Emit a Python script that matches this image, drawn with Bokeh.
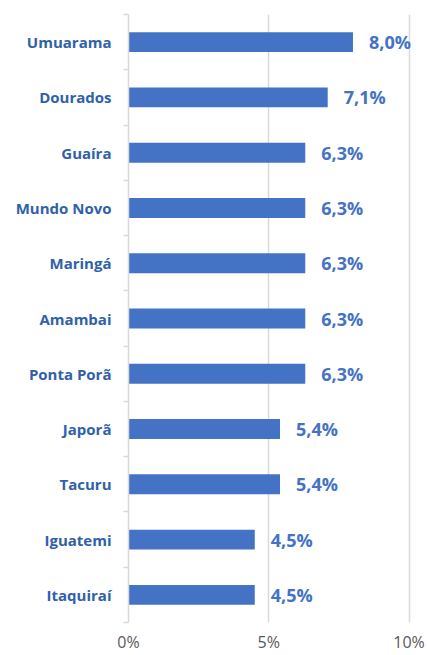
from bokeh.plotting import figure
from bokeh.models import Range1d, FixedTicker, ColumnDataSource
from bokeh.core.properties import value
from bokeh.embed import file_html
from bokeh.resources import INLINE

cities = ["Umuarama", "Dourados", "Guaíra", "Mundo Novo", "Maringá", "Amambai",
          "Ponta Porã", "Japorã", "Tacuru", "Iguatemi", "Itaquiraí"]
shares = [8.0, 7.1, 6.3, 6.3, 6.3, 6.3, 6.3, 5.4, 5.4, 4.5, 4.5]
x_ticks = [0, 5, 10]
x_tick_labels = ["0%", "5%", "10%"]

n = len(cities)
pos = [n - 0.5 - i for i in range(n)]  # category slots, top to bottom
labels = [f"{v:.1f}%".replace(".", ",") for v in shares]
src = ColumnDataSource(dict(pos=pos, city=cities, share=shares, label=labels))

FONT = "Open Sans"
BAR = "#4472C4"
CAT = "#2F61AA"
GRID = "#D9D9D9"

p = figure(width=427, height=655,
           y_range=Range1d(0, n),
           x_range=Range1d(0, 10.3),
           output_backend="svg", toolbar_location=None,
           min_border_left=128, min_border_right=10,
           min_border_top=14, min_border_bottom=30)

p.hbar(y="pos", left=0, right="share", height=0.36, source=src,
       fill_color=BAR, line_color=None)
p.text(x="share", y="pos", text="label", source=src, x_offset=16,
       text_baseline="middle", text_align="left",
       text_font=value(FONT), text_font_style="bold",
       text_font_size="18px", text_color=BAR)

# x axis
p.xaxis.ticker = FixedTicker(ticks=x_ticks)
p.xaxis.major_label_overrides = dict(zip(x_ticks, x_tick_labels))
p.xaxis.axis_line_color = None
p.xaxis.major_tick_line_color = None
p.xaxis.minor_tick_line_color = None
p.xaxis.major_tick_out = 0
p.xaxis.major_label_standoff = 8
p.xaxis.major_label_text_font = FONT
p.xaxis.major_label_text_font_size = "16px"
p.xaxis.major_label_text_color = "#595959"

p.xgrid.ticker = FixedTicker(ticks=x_ticks)
p.xgrid.grid_line_color = GRID
p.xgrid.grid_line_width = 1.5
p.ygrid.grid_line_color = None
p.outline_line_color = None

# y axis: city names at slot centres, small ticks at slot boundaries
ya = p.yaxis[0]
ya.ticker = FixedTicker(ticks=pos, minor_ticks=list(range(n + 1)))
ya.major_label_overrides = dict(zip(pos, cities))
ya.axis_line_color = GRID
ya.axis_line_width = 1.5
ya.major_tick_line_color = None
ya.major_tick_out = 5
ya.minor_tick_line_color = GRID
ya.minor_tick_line_width = 1.5
ya.minor_tick_out = 5
ya.minor_tick_in = 0
ya.major_label_standoff = 12
ya.major_label_text_font = FONT
ya.major_label_text_font_style = "bold"
ya.major_label_text_font_size = "15px"
ya.major_label_text_color = CAT

open("out.html", "w").write(file_html(p, INLINE))
